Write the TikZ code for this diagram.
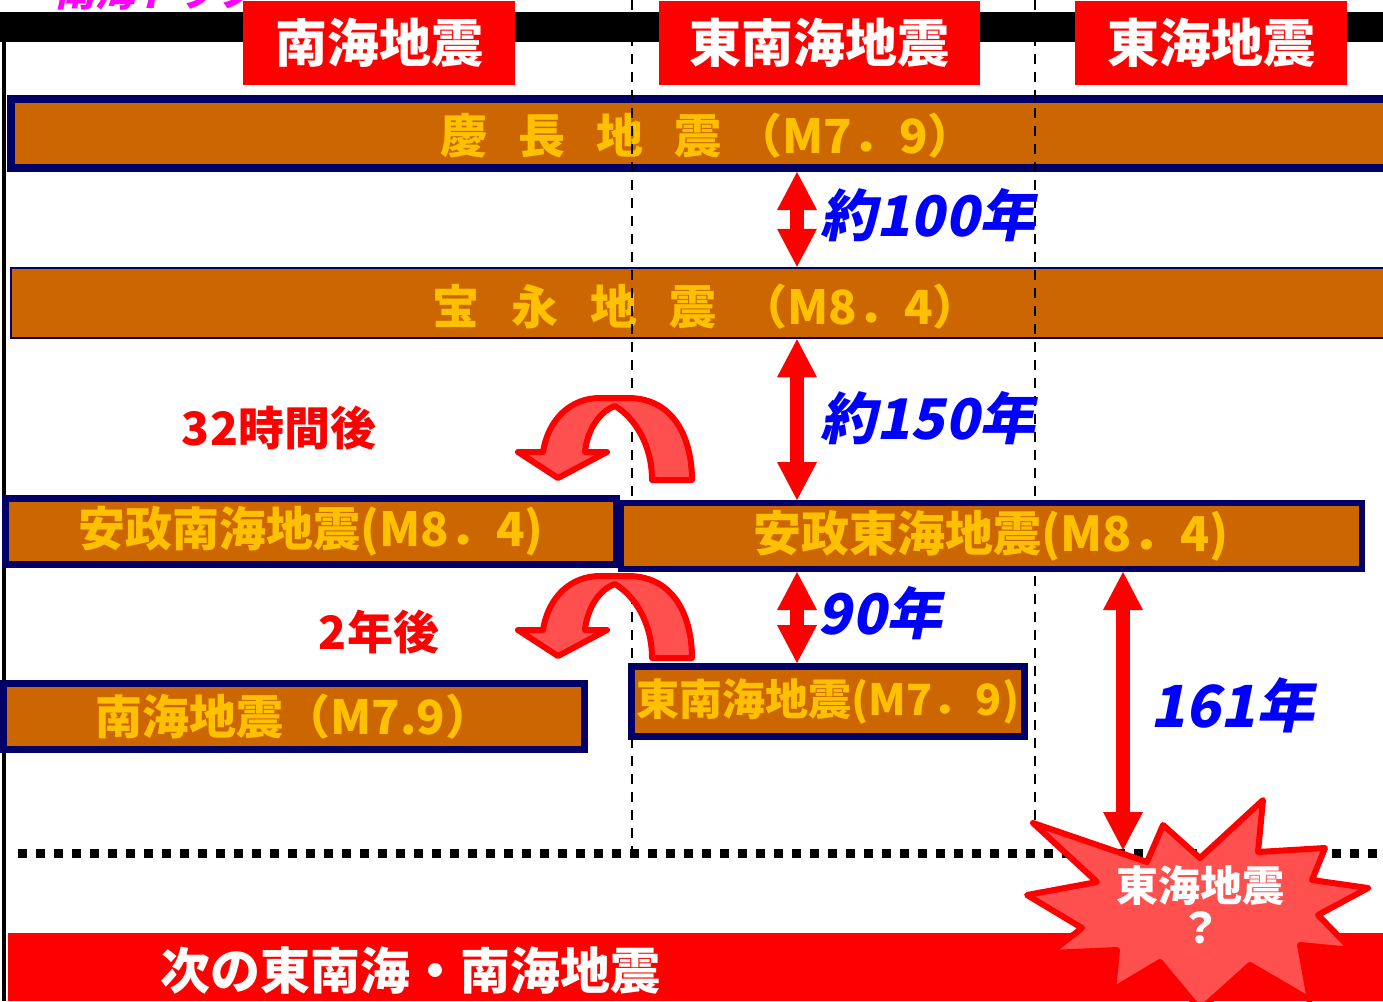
\documentclass[tikz,border=0pt]{standalone}
\usepackage{fontspec}
\newfontfamily\jp{Noto Sans CJK JP Black}
\newfontfamily\jpi{Noto Sans CJK JP Black}[FakeSlant=0.2]
\usetikzlibrary{arrows.meta}
\definecolor{barfill}{HTML}{CC6600}
\definecolor{navy}{HTML}{000066}
\definecolor{gold}{HTML}{FFC000}
\definecolor{starfill}{HTML}{FF5050}
\definecolor{mag}{HTML}{FF00FF}
\tikzset{
 bar/.style={draw=navy, fill=barfill, inner sep=0pt, text=gold},
 head/.style={fill=red, inner sep=0pt, text=white, font=\jp\fontsize{52}{52}\selectfont},
 yrs/.style={text=blue, font=\jpi\fontsize{56}{56}\selectfont, inner sep=0pt},
 redlbl/.style={text=red, font=\jp\fontsize{46}{46}\selectfont, inner sep=0pt},
 dbl/.style={red, line width=14pt, {Triangle[width=40pt,length=38pt,line width=0pt]}-{Triangle[width=40pt,length=38pt,line width=0pt]}},
 curv/.style={draw=red, fill=starfill, line width=6pt, line join=round},
 dashv/.style={line width=2.5pt, dash pattern=on 10pt off 8pt},
 bigtxt/.style={text=gold, font=\jp\fontsize{47}{47}\selectfont, inner sep=0pt, anchor=west},
}
\begin{document}
\begin{tikzpicture}[x=1pt,y=-1pt]
\useasboundingbox (0,0) rectangle (1383,1001);
\clip (0,0) rectangle (1383,1001);
\fill[white] (0,0) rectangle (1383,1001);
% cut-off title
\node[anchor=base west, text=mag, font=\jpi\fontsize{40}{40}\selectfont, inner sep=0pt] (title) at (55,6) {南海トラフ};
% black band and left rule
\fill[black] (0,12) rectangle (1383,42);
\draw[line width=4pt] (4,12) -- (4,1001);
% headers
\node[head, minimum width=272pt, minimum height=84pt] (h1) at (379,43) {南海地震};
\node[head, minimum width=321pt, minimum height=84pt] (h2) at (819.5,43) {東南海地震};
\node[head, minimum width=272pt, minimum height=84pt] (h3) at (1211,43) {東海地震};
% bars 1 and 2
\node[bar, line width=8pt, minimum width=1376pt, minimum height=69pt] (b1) at (699,133.5) {};
\node[bigtxt] (t1) at (440,136) {慶\hspace{31pt}長\hspace{31pt}地\hspace{31pt}震\hspace{14pt}（M7．9）};
\node[bar, line width=2.5pt, minimum width=1380pt, minimum height=70pt] (b2) at (701,303) {};
\node[bigtxt] (t2) at (432,307) {宝\hspace{32pt}永\hspace{32pt}地\hspace{32pt}震\hspace{24pt}（M8．4）};
% dashed verticals
\draw[dashv] (632,0) -- (632,855);
\draw[dashv] (1035,0) -- (1035,822);
% bars 3-6
\node[bar, line width=7pt, minimum width=611pt, minimum height=66pt, font=\jp\fontsize{47}{47}\selectfont] (b3) at (311,531.5) {安政南海地震(M8．4)};
\node[bar, line width=6pt, minimum width=741pt, minimum height=66pt, font=\jp\fontsize{48}{48}\selectfont] (b4) at (991,536) {安政東海地震(M8．4)};
\node[bar, line width=7pt, minimum width=581pt, minimum height=66pt, font=\jp\fontsize{47}{47}\selectfont] (b5) at (294,716.5) {南海地震（M7.9）};
\node[bar, line width=7pt, minimum width=393pt, minimum height=70pt, font=\jp\fontsize{43}{43}\selectfont] (b6) at (828,701.5) {東南海地震(M7．9)};
% double arrows
\coordinate (ax) at (797,0);
\coordinate (bx) at (1123,0);
\coordinate (st) at (1123,850);
\draw[dbl] (b1.south -| ax) -- (b2.north -| ax);
\draw[dbl] (b2.south -| ax) -- (b4.north -| ax);
\draw[dbl] (b4.south -| ax) -- (b6.north -| ax);
\draw[dbl] (b4.south -| bx) -- (st);
\node[yrs] (y1) at (928,215) {約100年};
\node[yrs] (y2) at (928,418) {約150年};
\node[yrs] (y3) at (880,613) {90年};
\node[yrs, font=\jpi\fontsize{58}{58}\selectfont] (y4) at (1232,705) {161年};
% curved arrows
\foreach \dy in {0,178}{
\begin{scope}[shift={(0,\dy)}]
\draw[curv] (692,480) .. controls (692,440) and (675,398) .. (628,398) -- (600,398)
  .. controls (570,398) and (548,420) .. (543,452) -- (518,452) -- (558,478) -- (607,452) -- (585,452)
  .. controls (587,432) and (598,412) .. (615,406)
  .. controls (635,418) and (652,445) .. (652,480) -- cycle;
\end{scope}}
\node[redlbl] (l1) at (279,428) {32時間後};
\node[redlbl] (l2) at (379,632) {2年後};
% dotted line
\draw[line width=9pt, dash pattern=on 9pt off 9pt] (18,853) -- (1383,853);
% bottom band
\fill[red] (8,933) rectangle (1383,1001);
\node[text=white, font=\jp\fontsize{50}{50}\selectfont, inner sep=0pt] (bt) at (410,970) {次の東南海・南海地震};
% star burst
\draw[draw=red, fill=starfill, line width=6pt, line join=round]
 (1033,823) -- (1147,862) -- (1163,825) -- (1200,858) -- (1263,800) -- (1258,852)
 -- (1325,848) -- (1312,880) -- (1368,888) -- (1318,915) -- (1352,950) -- (1300,945)
 -- (1310,1000) -- (1250,965) -- (1200,1010) -- (1160,962) -- (1113,990) -- (1117,950)
 -- (1050,953) -- (1082,928) -- (1027,895) -- (1097,882) -- cycle;
\node[text=white, font=\jp\fontsize{42}{42}\selectfont, inner sep=0pt, align=center] (sq) at (1200,905) {東海地震\\？};
\end{tikzpicture}
\end{document}
